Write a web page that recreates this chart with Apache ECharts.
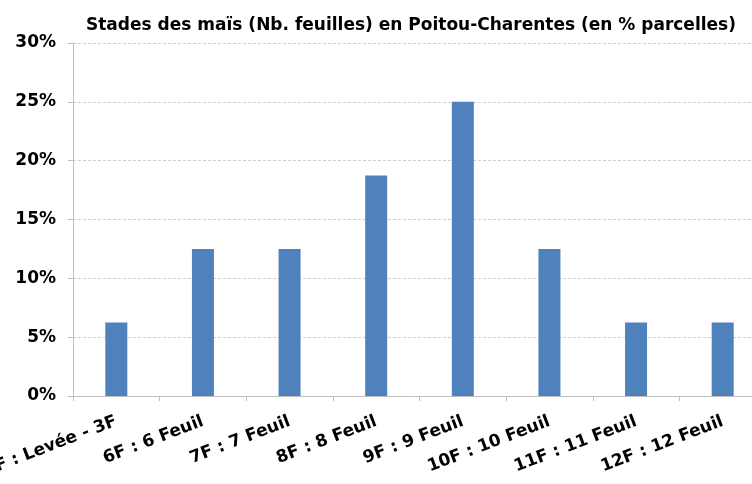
<!DOCTYPE html>
<html><head><meta charset="utf-8">
<script src="https://cdn.jsdelivr.net/npm/echarts@6/dist/echarts.min.js"></script>
<style>html,body{margin:0;padding:0;background:#fff}#c{width:752px;height:484px}</style>
</head><body><div id="c"></div>
<script>
var categories = ["3F : Levée - 3F","6F : 6 Feuil","7F : 7 Feuil","8F : 8 Feuil","9F : 9 Feuil","10F : 10 Feuil","11F : 11 Feuil","12F : 12 Feuil"];
var values = [6.25, 12.5, 12.5, 18.75, 25, 12.5, 6.25, 6.25];
var titleText = "Stades des maïs (Nb. feuilles) en Poitou-Charentes (en % parcelles)";
var font = "'DejaVu Sans', Verdana, sans-serif";
var chart = echarts.init(document.getElementById('c'));
chart.setOption({
  animation: false,
  title: {text: titleText, left: 81, top: 12, textStyle: {fontFamily: font, fontWeight: 'bold', fontSize: 17, color: '#000'}},
  grid: {left: 73, top: 43, bottom: 88, right: -14, containLabel: false, outerBoundsMode: 'none'},
  xAxis: {type: 'category', data: categories,
    axisLine: {lineStyle: {color: '#bfbfbf', width: 1}},
    axisTick: {show: true, length: 5, lineStyle: {color: '#bfbfbf'}},
    axisLabel: {interval: 0, rotate: 21, margin: 25, fontFamily: font, fontWeight: 'bold', fontSize: 17, color: '#000'}},
  yAxis: {type: 'value', min: 0, max: 30, interval: 5,
    axisLine: {show: true, lineStyle: {color: '#bfbfbf', width: 1}},
    axisTick: {show: true, length: 5, lineStyle: {color: '#bfbfbf'}},
    splitLine: {lineStyle: {color: '#d0d0d0', type: [3,2]}},
    axisLabel: {formatter: '{value}%', margin: 17, fontFamily: font, fontWeight: 'bold', fontSize: 17, color: '#000'}},
  series: [{type: 'bar', data: values, barWidth: 22, itemStyle: {color: '#4F81BD'}}]
});
</script></body></html>
